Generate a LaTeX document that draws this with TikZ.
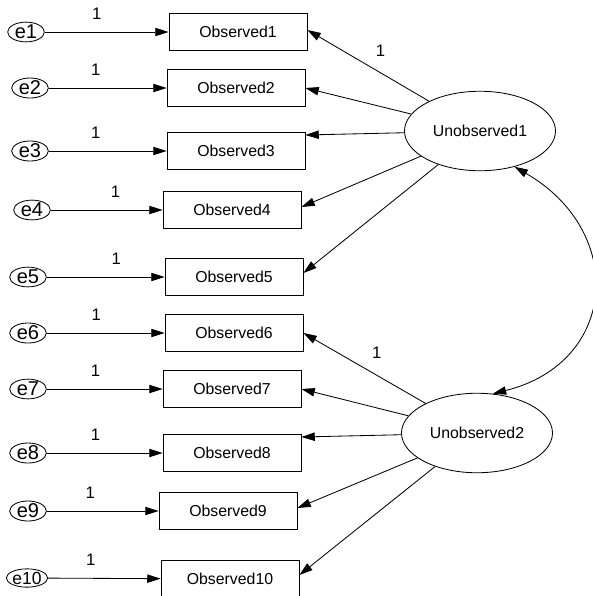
\documentclass[tikz,border=0pt]{standalone}
\usepackage{fontspec}
\setmainfont{Liberation Sans}
\usepackage{tikz}
\usetikzlibrary{arrows.meta}
\usetikzlibrary{shapes}

\begin{document}
\begin{tikzpicture}[x=0.6pt, y=-0.6pt, line width=0.5pt,
    err/.style={ellipse, draw, minimum width=22pt, minimum height=11pt, inner sep=0pt, font=\fontsize{12}{12}\selectfont},
    obs/.style={rectangle, draw, minimum width=82.8pt, minimum height=22.2pt, font=\fontsize{9.5}{10}\selectfont},
    lat/.style={ellipse, draw, minimum width=90.6pt, minimum height=47.7pt, inner sep=0pt, font=\fontsize{9.5}{10}\selectfont},
    arr/.style={-{Triangle[length=8pt, width=5pt]}},
    one/.style={font=\fontsize{10}{10}\selectfont}]
      \useasboundingbox (0,0) rectangle (592,596);
      \node[err] (e1) at (26, 32) {e1};
      \node[err] (e2) at (30, 88) {e2};
      \node[err] (e3) at (30, 151) {e3};
      \node[err] (e4) at (32, 210) {e4};
      \node[err] (e5) at (28, 277) {e5};
      \node[err] (e6) at (28, 333) {e6};
      \node[err] (e7) at (28, 389) {e7};
      \node[err] (e8) at (28, 453) {e8};
      \node[err] (e9) at (28, 511) {e9};
      \node[err, font=\fontsize{10.5}{10.5}\selectfont] (e10) at (27, 578) {e10};
      \node[obs] (o1) at (238, 32) {Observed1};
      \node[obs] (o2) at (236, 88) {Observed2};
      \node[obs] (o3) at (236, 151) {Observed3};
      \node[obs] (o4) at (232, 210) {Observed4};
      \node[obs] (o5) at (234, 277) {Observed5};
      \node[obs] (o6) at (234, 333) {Observed6};
      \node[obs] (o7) at (232, 389) {Observed7};
      \node[obs] (o8) at (232, 453) {Observed8};
      \node[obs] (o9) at (228, 511) {Observed9};
      \node[obs] (o10) at (230, 579) {Observed10};
      \node[lat] (u1) at (480, 131) {Unobserved1};
      \node[lat] (u2) at (477, 433) {Unobserved2};
      % error terms
      \draw[arr] (e1) -- (o1) node[one, pos=0.42, above=4pt] {1};
      \draw[arr] (e2) -- (o2) node[one, pos=0.40, above=4pt] {1};
      \draw[arr] (e3) -- (o3) node[one, pos=0.40, above=4pt] {1};
      \draw[arr] (e4) -- (o4) node[one, pos=0.58, above=4pt] {1};
      \draw[arr] (e5) -- (o5) node[one, pos=0.59, above=4pt] {1};
      \draw[arr] (e6) -- (o6) node[one, pos=0.42, above=4pt] {1};
      \draw[arr] (e7) -- (o7) node[one, pos=0.42, above=4pt] {1};
      \draw[arr] (e8) -- (o8) node[one, pos=0.42, above=4pt] {1};
      \draw[arr] (e9) -- (o9) node[one, pos=0.39, above=4pt] {1};
      \draw[arr] (e10) -- (o10) node[one, pos=0.38, above=4pt] {1};
      % loadings
      \draw[arr] (u1) -- ([yshift=1.2pt]o1.east) node[one, pos=0.4, above=6.3pt] {1};
      \draw[arr] (u1) -- (o2.east);
      \draw[arr] (u1) -- ([yshift=9.6pt]o3.east);
      \draw[arr] (u1) -- ([yshift=1.8pt]o4.east);
      \draw[arr] (u1) -- ([yshift=2.4pt]o5.east);
      \draw[arr] (u2) -- (o6.east) node[one, pos=0.4, above=6.3pt] {1};
      \draw[arr] (u2) -- (o7.east);
      \draw[arr] (u2) -- ([yshift=9.6pt]o8.east);
      \draw[arr] (u2) -- ([yshift=1.8pt]o9.east);
      \draw[arr] (u2) -- ([yshift=2.4pt]o10.east);
      % covariance
      \draw[{Triangle[length=8pt, width=5pt]}-{Triangle[length=8pt, width=5pt]}] (u1.-46) to[out=-30, in=14, looseness=1.45] (u2.68);
    \end{tikzpicture}
\end{document}
